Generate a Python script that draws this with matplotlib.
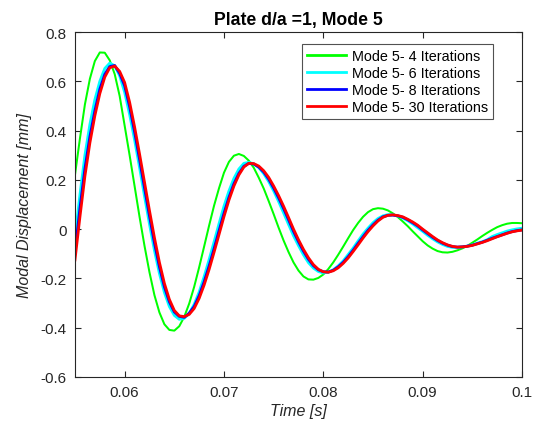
import numpy as np
import matplotlib
matplotlib.use('Agg')
import matplotlib.pyplot as plt
from matplotlib.ticker import FuncFormatter

plt.rcParams['font.family'] = ['Liberation Sans', 'DejaVu Sans']
plt.rcParams['axes.unicode_minus'] = False

# time samples, every 0.5 ms
time_s = np.linspace(0.055, 0.1, 91)

disp_4_iter = [
    0.220, 0.368, 0.506, 0.610, 0.682, 0.717, 0.716, 0.685, 0.629, 0.540,
    0.420, 0.300, 0.175, 0.050, -0.068, -0.175, -0.268, -0.338, -0.386, -0.409,
    -0.412, -0.394, -0.356, -0.302, -0.234, -0.155, -0.071, 0.014, 0.095, 0.166,
    0.229, 0.273, 0.298, 0.305, 0.297, 0.278, 0.249, 0.209, 0.165, 0.114,
    0.061, 0.006, -0.046, -0.093, -0.135, -0.168, -0.192, -0.204, -0.205, -0.198,
    -0.184, -0.162, -0.135, -0.104, -0.071, -0.037, -0.004, 0.025, 0.050, 0.069,
    0.081, 0.085, 0.083, 0.076, 0.064, 0.049, 0.031, 0.012, -0.009, -0.029,
    -0.049, -0.066, -0.079, -0.089, -0.094, -0.095, -0.092, -0.086, -0.078, -0.068,
    -0.055, -0.042, -0.028, -0.015, -0.003, 0.008, 0.016, 0.022, 0.025, 0.025,
    0.024]

disp_6_iter = [
    -0.035, 0.140, 0.300, 0.425, 0.525, 0.600, 0.652, 0.674, 0.663, 0.622,
    0.555, 0.465, 0.362, 0.250, 0.133, 0.020, -0.087, -0.180, -0.257, -0.314,
    -0.350, -0.366, -0.362, -0.342, -0.305, -0.255, -0.193, -0.124, -0.052, 0.022,
    0.093, 0.155, 0.206, 0.244, 0.267, 0.271, 0.265, 0.250, 0.225, 0.193,
    0.155, 0.112, 0.066, 0.019, -0.027, -0.067, -0.104, -0.136, -0.158, -0.172,
    -0.178, -0.175, -0.165, -0.149, -0.129, -0.103, -0.077, -0.048, -0.020, 0.004,
    0.026, 0.043, 0.054, 0.059, 0.058, 0.053, 0.045, 0.034, 0.021, 0.006,
    -0.009, -0.025, -0.039, -0.052, -0.062, -0.070, -0.074, -0.074, -0.072, -0.069,
    -0.064, -0.057, -0.051, -0.043, -0.030, -0.022, -0.015, -0.008, -0.003, 0.001,
    0.004]

disp_8_iter = [
    -0.094, 0.085, 0.245, 0.375, 0.480, 0.568, 0.628, 0.660, 0.664, 0.632,
    0.582, 0.497, 0.395, 0.283, 0.167, 0.053, -0.056, -0.153, -0.234, -0.295,
    -0.336, -0.354, -0.358, -0.341, -0.314, -0.270, -0.214, -0.150, -0.080, -0.007,
    0.064, 0.129, 0.184, 0.226, 0.255, 0.267, 0.264, 0.252, 0.232, 0.203,
    0.167, 0.127, 0.084, 0.038, -0.009, -0.051, -0.089, -0.122, -0.148, -0.165,
    -0.173, -0.174, -0.167, -0.153, -0.135, -0.112, -0.086, -0.058, -0.031, -0.005,
    0.017, 0.036, 0.050, 0.056, 0.057, 0.054, 0.048, 0.038, 0.026, 0.013,
    -0.003, -0.018, -0.033, -0.046, -0.057, -0.065, -0.071, -0.073, -0.072, -0.069,
    -0.065, -0.059, -0.053, -0.045, -0.037, -0.030, -0.023, -0.016, -0.010, -0.006,
    -0.003]

disp_30_iter = [
    -0.125, 0.050, 0.215, 0.350, 0.460, 0.550, 0.617, 0.655, 0.662, 0.640,
    0.595, 0.515, 0.415, 0.305, 0.190, 0.075, -0.035, -0.135, -0.220, -0.285,
    -0.330, -0.352, -0.355, -0.346, -0.322, -0.281, -0.227, -0.164, -0.094, -0.022,
    0.051, 0.118, 0.175, 0.220, 0.252, 0.267, 0.266, 0.256, 0.237, 0.210,
    0.175, 0.136, 0.093, 0.047, 0.000, -0.043, -0.082, -0.116, -0.144, -0.163,
    -0.173, -0.175, -0.169, -0.157, -0.139, -0.117, -0.091, -0.064, -0.036, -0.010,
    0.013, 0.033, 0.048, 0.056, 0.058, 0.055, 0.050, 0.040, 0.029, 0.016,
    0.000, -0.015, -0.030, -0.044, -0.055, -0.064, -0.070, -0.073, -0.072, -0.070,
    -0.066, -0.060, -0.054, -0.047, -0.039, -0.031, -0.024, -0.017, -0.011, -0.007,
    -0.004]

series = [
    ("Mode 5- 4 Iterations", disp_4_iter, '#00FF00', 1.45),
    ("Mode 5- 6 Iterations", disp_6_iter, '#00FFFF', 2.0),
    ("Mode 5- 8 Iterations", disp_8_iter, '#0000FF', 2.0),
    ("Mode 5- 30 Iterations", disp_30_iter, '#FF0000', 2.0),
]

AX_COLOR = '#262626'

fig = plt.figure(figsize=(5.34, 4.27), dpi=100)
ax = fig.add_axes([0.1404, 0.1148, 0.8371, 0.8079])

for name, values, color, lw in series:
    ax.plot(time_s, values, color=color, linewidth=lw, label=name)

ax.set_xlim(0.055, 0.1)
ax.set_ylim(-0.6, 0.8)
ax.set_xticks([0.06, 0.07, 0.08, 0.09, 0.1])
ax.set_yticks(np.arange(-0.6, 0.81, 0.2))
fmt = FuncFormatter(lambda v, pos: '%g' % round(v, 3))
ax.xaxis.set_major_formatter(fmt)
ax.yaxis.set_major_formatter(fmt)
ax.tick_params(direction='in', length=4, width=0.8, top=True, right=True,
               labelsize=11, colors=AX_COLOR, pad=6)
for side in ax.spines.values():
    side.set_color(AX_COLOR)
    side.set_linewidth(0.8)

ax.set_xlabel("Time [s]", fontsize=11.5, style='italic', color=AX_COLOR, labelpad=3)
ax.set_ylabel("Modal Displacement [mm]", fontsize=11.5, style='italic', color=AX_COLOR, labelpad=6)
ax.set_title("Plate d/a =1, Mode 5", fontsize=12.7, fontweight='bold', pad=6)

leg = ax.legend(loc='upper right', bbox_to_anchor=(493 / 534, 1 - 45 / 427),
                bbox_transform=fig.transFigure, fontsize=10.4, frameon=True,
                fancybox=False, handlelength=2.7, handletextpad=0.4,
                borderpad=0.35, labelspacing=0.2, borderaxespad=0)
leg.get_frame().set_edgecolor(AX_COLOR)
leg.get_frame().set_linewidth(0.8)
for line in leg.get_lines():
    line.set_linewidth(2.0)

fig.savefig('out.png', dpi=100)
